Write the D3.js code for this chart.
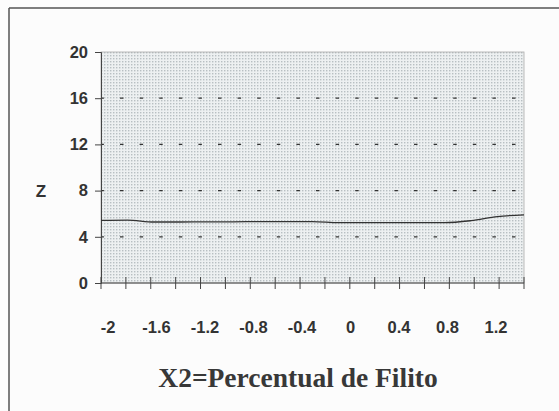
<!DOCTYPE html>
<html>
<head>
<meta charset="utf-8">
<script src="https://cdn.jsdelivr.net/npm/d3@7"></script>
<style>
  html, body { margin: 0; padding: 0; background: #fcfcfc; }
  svg { display: block; }
  .lab { font-family: "Liberation Sans", Arial, sans-serif; font-weight: bold; fill: #333; }
</style>
</head>
<body>
<div id="chart"></div>
<script>
// categories of X2 (one per band on the axis)
var categories = [-2, -1.8, -1.6, -1.4, -1.2, -1, -0.8, -0.6, -0.4, -0.2, 0, 0.2, 0.4, 0.6, 0.8, 1, 1.2];
// Z at each category
var zValues = [5.42, 5.45, 5.28, 5.28, 5.3, 5.3, 5.32, 5.32, 5.32, 5.22, 5.22, 5.22, 5.22, 5.22, 5.4, 5.75, 5.9];
// the printed axis only labels every other category
var xLabels = ["-2", "-1.6", "-1.2", "-0.8", "-0.4", "0", "0.4", "0.8", "1.2"];
var yTicks = [0, 4, 8, 12, 16, 20];
var gridValues = [4, 8, 12, 16];

var W = 559, H = 411;
var margin = {top: 52, right: 35, bottom: 128, left: 101};
var plotW = W - margin.left - margin.right,
    plotH = H - margin.top - margin.bottom;

var svg = d3.select("#chart").append("svg")
    .attr("width", W)
    .attr("height", H);

// halftone look of the printed plot area
var defs = svg.append("defs");
var pat = defs.append("pattern")
    .attr("id", "dots")
    .attr("width", 3).attr("height", 3)
    .attr("patternUnits", "userSpaceOnUse");
pat.append("rect").attr("width", 3).attr("height", 3).attr("fill", "#edf0f1");
pat.append("rect").attr("width", 1.4).attr("height", 1.4).attr("fill", "#b8bfc2");

// page frame (top and left edges visible in the scan)
svg.append("line").attr("x1", 9).attr("x2", W).attr("y1", 8).attr("y2", 8)
    .attr("stroke", "#555").attr("stroke-width", 1.5);
svg.append("line").attr("x1", 9).attr("x2", 9).attr("y1", 8).attr("y2", H)
    .attr("stroke", "#555").attr("stroke-width", 1.5);

var g = svg.append("g")
    .attr("transform", "translate(" + margin.left + "," + margin.top + ")");

var xBand = d3.scaleBand()
    .domain(categories)
    .range([0, plotW]);

var xPoint = d3.scalePoint()
    .domain(categories)
    .range([0, plotW]);

// label placement as printed (slightly compressed toward the left)
var xLab = d3.scalePoint()
    .domain(xLabels)
    .range([7, 395]);

var y = d3.scaleLinear()
    .domain([0, 20])
    .range([plotH, 0]);

g.append("rect")
    .attr("width", plotW)
    .attr("height", plotH)
    .attr("fill", "url(#dots)")
    .attr("stroke", "#aaa")
    .attr("stroke-width", 0.8);

// dotted gridlines
g.selectAll(".grid")
    .data(gridValues)
    .enter().append("line")
    .attr("class", "grid")
    .attr("x1", 0).attr("x2", plotW)
    .attr("y1", function(d) { return y(d); })
    .attr("y2", function(d) { return y(d); })
    .attr("stroke", "#333")
    .attr("stroke-width", 1.3)
    .attr("stroke-dasharray", "3.5,16.1")
    .attr("stroke-dashoffset", 0.6);

// y axis
var yAxis = d3.axisLeft(y)
    .tickValues(yTicks)
    .tickSize(6)
    .tickPadding(7);
var ya = g.append("g").call(yAxis);
ya.select(".domain").attr("stroke", "#444");
ya.selectAll(".tick line").attr("stroke", "#444");
ya.selectAll(".tick text")
    .attr("class", "lab")
    .attr("font-size", 16.5)
    .attr("fill", "#333")
    .attr("font-family", null);

// x axis: line at z=0, ticks crossing at band edges
g.append("line")
    .attr("x1", 0).attr("x2", plotW)
    .attr("y1", y(0)).attr("y2", y(0))
    .attr("stroke", "#444");

var edges = categories.map(function(d) { return xBand(d); }).concat([plotW]);
g.selectAll(".xtick")
    .data(edges)
    .enter().append("line")
    .attr("class", "xtick")
    .attr("x1", function(d) { return d; })
    .attr("x2", function(d) { return d; })
    .attr("y1", y(0) - 6)
    .attr("y2", y(0) + 6)
    .attr("stroke", "#444");

g.selectAll(".xlab")
    .data(xLabels)
    .enter().append("text")
    .attr("class", "lab xlab")
    .attr("x", function(d) { return xLab(d); })
    .attr("y", plotH + 50)
    .attr("text-anchor", "middle")
    .attr("font-size", 16.5)
    .text(function(d) { return d; });

// the Z curve
var line = d3.line()
    .x(function(d, i) { return xPoint(categories[i]); })
    .y(function(d) { return y(d); })
    .curve(d3.curveMonotoneX);

g.append("path")
    .datum(zValues)
    .attr("d", line)
    .attr("fill", "none")
    .attr("stroke", "#333")
    .attr("stroke-width", 1.3);

// axis titles
svg.append("text")
    .attr("class", "lab")
    .attr("x", 41)
    .attr("y", margin.top + y(8) + 6)
    .attr("text-anchor", "middle")
    .attr("font-size", 17)
    .text("Z");

svg.append("text")
    .attr("x", 298)
    .attr("y", 387)
    .attr("text-anchor", "middle")
    .attr("font-family", "'Liberation Serif', 'Times New Roman', serif")
    .attr("font-weight", "bold")
    .attr("font-size", 27.5)
    .attr("fill", "#383838")
    .text("X2=Percentual de Filito");
</script>
</body>
</html>
